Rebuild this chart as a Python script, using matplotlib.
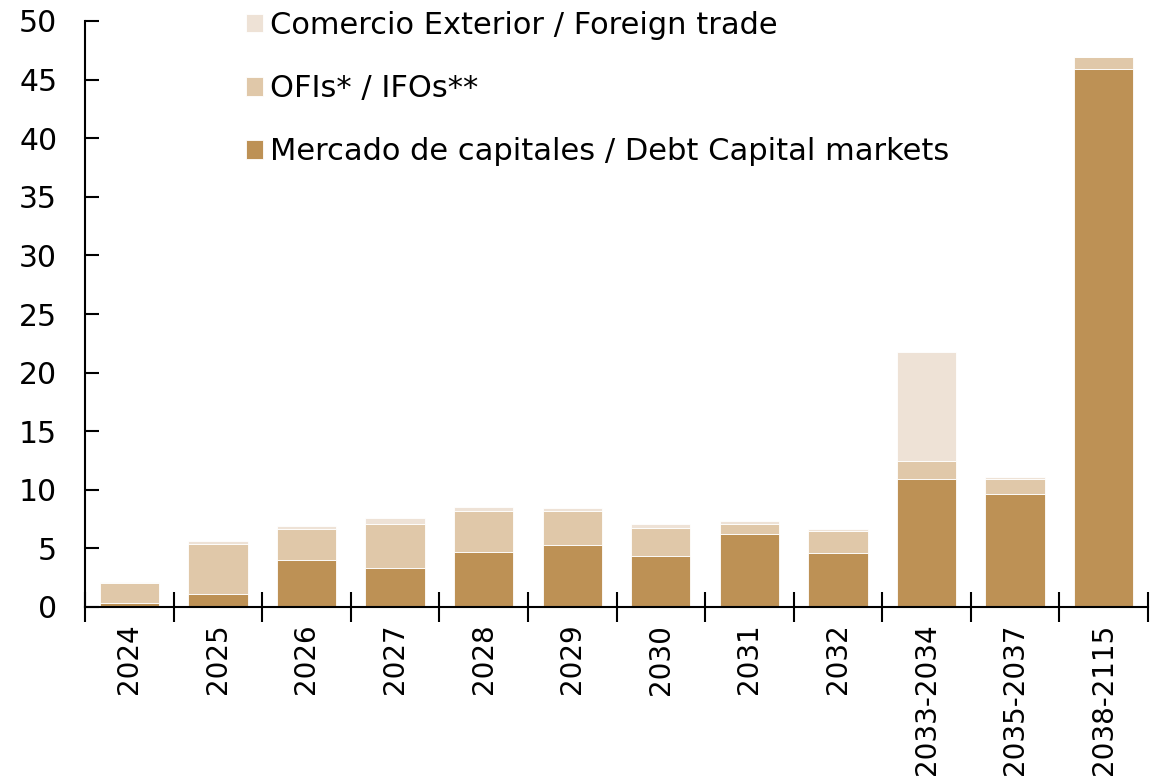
import numpy as np
import matplotlib
matplotlib.use('Agg')
import matplotlib.pyplot as plt
from matplotlib.ticker import FixedLocator, NullFormatter

# data
periods = ['2024', '2025', '2026', '2027', '2028', '2029', '2030',
           '2031', '2032', '2033-2034', '2035-2037', '2038-2115']
capital_markets = [0.3, 1.1, 4.0, 3.3, 4.7, 5.3, 4.35, 6.25, 4.6, 10.95, 9.6, 45.9]
ofis = [1.75, 4.3, 2.65, 3.75, 3.5, 2.85, 2.4, 0.85, 1.85, 1.55, 1.3, 1.0]
foreign_trade = [0.1, 0.2, 0.25, 0.55, 0.3, 0.3, 0.3, 0.25, 0.2, 9.3, 0.2, 0.05]

labels = ['Mercado de capitales / Debt Capital markets',
          'OFIs* / IFOs**',
          'Comercio Exterior / Foreign trade']
colors = ['#BD9155', '#E0C8A9', '#EEE2D6']

plt.rcParams['font.family'] = ['DejaVu Sans']

fig = plt.figure(figsize=(11.63, 7.84), dpi=100)
ax = fig.add_axes([85 / 1163, 1 - 607 / 784, (1148 - 85) / 1163, (607 - 21) / 784])

x = np.arange(len(periods))
bottom = np.zeros(len(periods))
handles = []
for vals, lab, col in zip([capital_markets, ofis, foreign_trade], labels, colors):
    b = ax.bar(x, vals, 0.67, bottom=bottom, color=col, label=lab,
               edgecolor='white', linewidth=0.6)
    handles.append(b)
    bottom += np.array(vals)

ax.set_xlim(-0.5, len(periods) - 0.5)
ax.set_ylim(0, 50)
ax.set_yticks(np.arange(0, 51, 5))
ax.tick_params(axis='y', direction='in', length=10, width=1.5, labelsize=21.5, pad=20)

ax.set_xticks(x)
ax.set_xticklabels(periods, rotation=90, fontsize=20)
ax.tick_params(axis='x', which='major', length=0, pad=12)
ax.xaxis.set_minor_locator(FixedLocator(np.arange(-0.5, len(periods), 1)))
ax.xaxis.set_minor_formatter(NullFormatter())
ax.tick_params(axis='x', which='minor', direction='inout', length=22, width=1.5)

for s in ['top', 'right']:
    ax.spines[s].set_visible(False)
for s in ['left', 'bottom']:
    ax.spines[s].set_linewidth(1.5)

ax.legend(handles[::-1], labels[::-1], loc='upper left',
          bbox_to_anchor=(0.14, 1.038), frameon=False, fontsize=22,
          handlelength=0.55, handleheight=0.55, handletextpad=0.25,
          labelspacing=1.12, borderaxespad=0)

fig.savefig('out.png', dpi=100)
